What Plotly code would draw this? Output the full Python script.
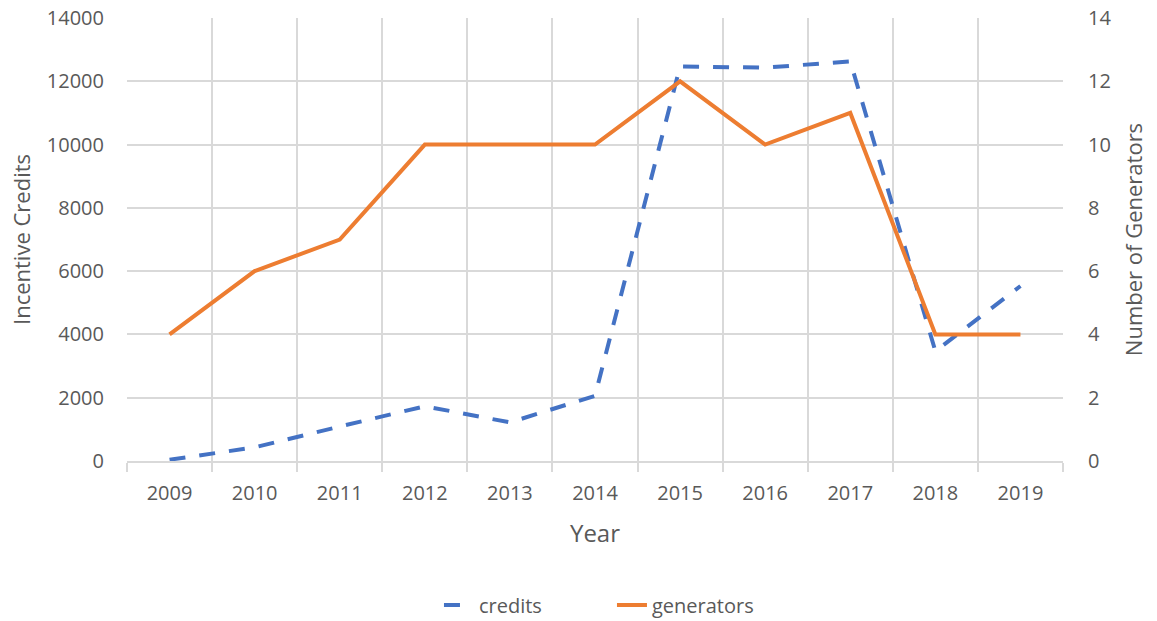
import plotly.graph_objects as go

years = ["2009", "2010", "2011", "2012", "2013", "2014", "2015", "2016", "2017", "2018", "2019"]
credits = [40, 430, 1090, 1730, 1220, 2060, 12470, 12430, 12630, 3470, 5530]
generators = [4, 6, 7, 10, 10, 10, 12, 10, 11, 4, 4]

FONT = "Open Sans"
TXT = "#595959"
GRID = "#d9d9d9"

fig = go.Figure()
fig.add_trace(go.Scatter(x=years, y=credits, name="credits", mode="lines",
                         line=dict(color="#4472C4", width=4, dash="16px,14px")))
fig.add_trace(go.Scatter(x=years, y=generators, name="generators", mode="lines",
                         yaxis="y2", line=dict(color="#ED7D31", width=4)))

fig.update_layout(
    width=1157, height=621,
    margin=dict(l=127, r=94, t=18, b=160, autoexpand=False),
    paper_bgcolor="white", plot_bgcolor="white",
    font=dict(family=FONT, color=TXT, size=20),
    xaxis=dict(type="category", range=[-0.5, 10.5], tickson="boundaries", automargin=False,
               showgrid=True, gridcolor=GRID, gridwidth=2,
               ticks="outside", ticklen=9, tickcolor=GRID, tickwidth=2,
               showline=True, linecolor=GRID, linewidth=2,
               tickfont=dict(size=20, color=TXT), ticklabelstandoff=13,
               title=dict(text="Year", font=dict(size=24, color=TXT), standoff=20)),
    yaxis=dict(range=[0, 14000], dtick=2000, tickformat="d", showgrid=True, gridcolor=GRID, gridwidth=2,
               automargin=False, zeroline=False, tickfont=dict(size=20, color=TXT), ticks="",
               ticklabelstandoff=22, ticklabeloverflow="allow",
               title=dict(text="Incentive Credits", font=dict(size=22, color=TXT), standoff=10)),
    yaxis2=dict(range=[0, 14], dtick=2, overlaying="y", side="right", showgrid=False, automargin=False,
                zeroline=False, tickfont=dict(size=20, color=TXT), ticklabelstandoff=24,
                ticklabeloverflow="allow",
                title=dict(text="Number of Generators", font=dict(size=22, color=TXT), standoff=16)),
    legend=dict(orientation="h", x=0.3333, xanchor="left", y=-0.325, yanchor="middle",
                font=dict(size=20, color=TXT), entrywidth=128, entrywidthmode="pixels"),
    showlegend=True,
)

fig.write_html("out.html", config={"displayModeBar": False},
               post_script="document.body.style.margin='0';")
